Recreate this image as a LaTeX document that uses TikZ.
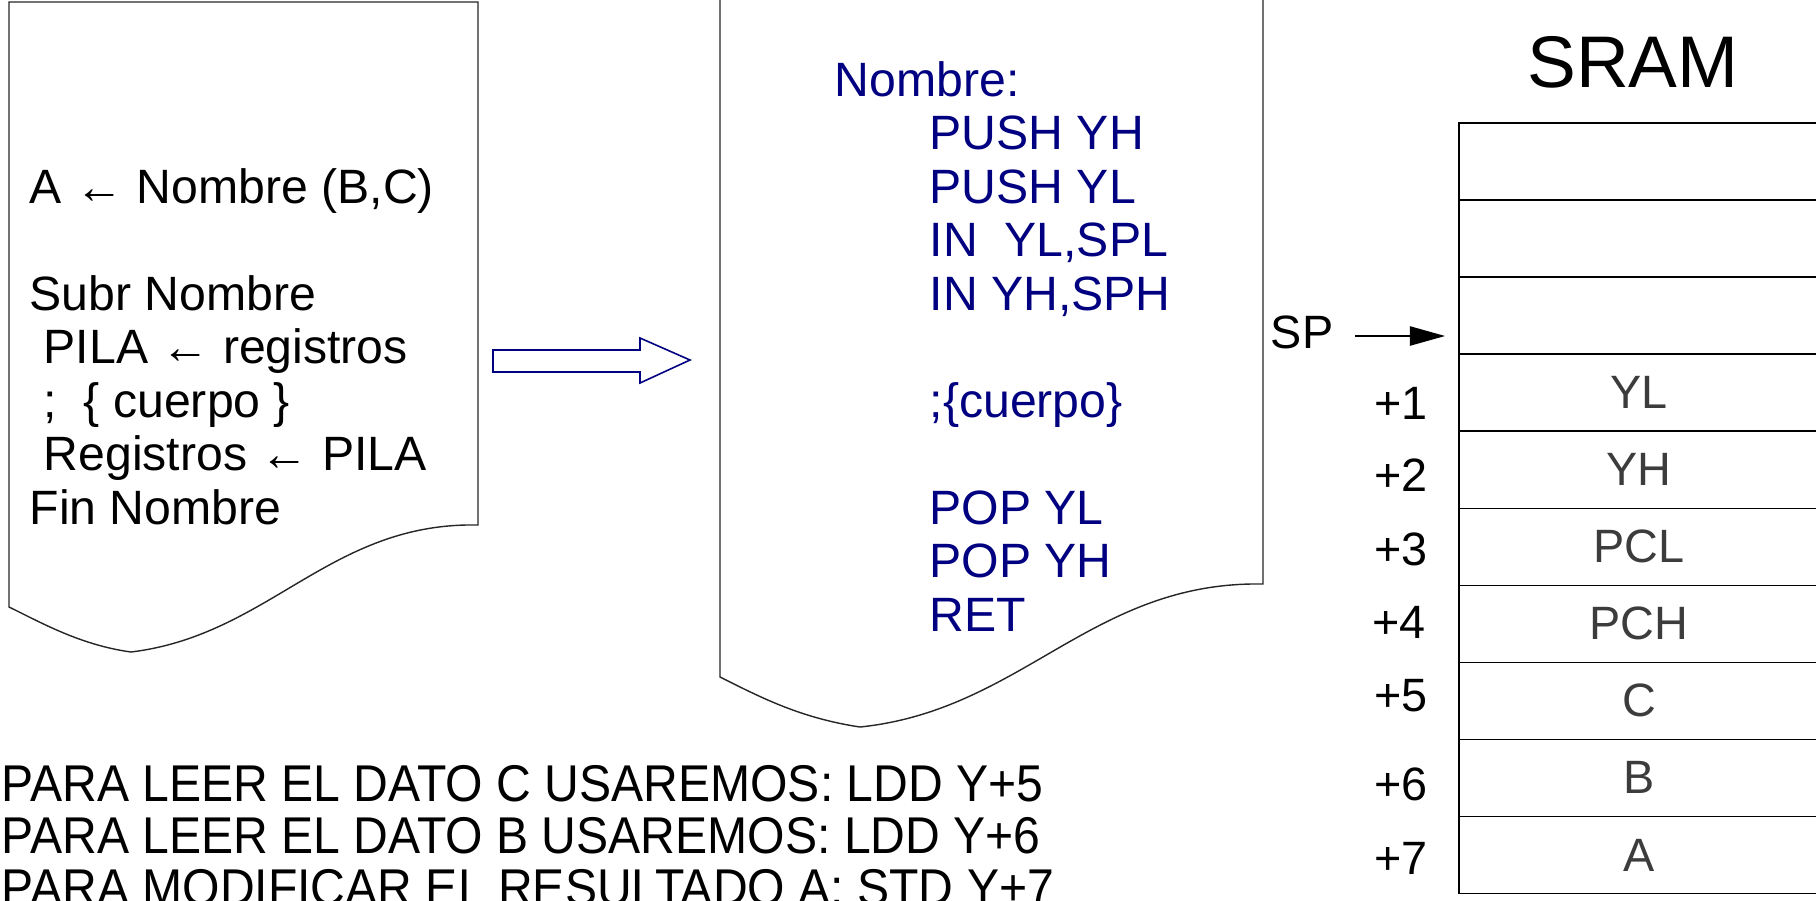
\documentclass[tikz,border=0pt]{standalone}
\usepackage{fontspec}
\setmainfont{Liberation Sans}
\usetikzlibrary{positioning,arrows.meta}

\definecolor{asmblue}{RGB}{0,0,128}
\definecolor{cellgray}{RGB}{60,60,60}

\tikzset{
  doctext/.style={anchor=base west,inner sep=0pt,font=\fontsize{13.7pt}{15.2pt}\selectfont},
  asmtext/.style={doctext,text=asmblue},
  paper/.style={draw=black!85,line width=0.4pt,fill=white},
  cell/.style={draw,line width=0.4pt,outer sep=0pt,inner sep=0pt,minimum width=3.6cm,minimum height=0.77cm,text=cellgray,font=\fontsize{13.3pt}{15pt}\selectfont},
  offs/.style={inner sep=0pt,font=\fontsize{13.3pt}{15pt}\selectfont},
  notetext/.style={anchor=base west,inner sep=0pt,font=\fontsize{14.7pt}{17pt}\selectfont},
}

\begin{document}
\begin{tikzpicture}[x=0.01cm,y=-0.01cm]
\useasboundingbox (0,0) rectangle (1816,900);

% calling side
\draw[paper] (9,2) -- (478,2) -- (478,525) .. controls (330,522) and (270,635) .. (131,652) .. controls (80,645) and (40,622) .. (9,607) -- cycle;
\node[doctext] (call) at (29,203) {A ← Nombre (B,C)};
\node[doctext] (subr) at (29,310) {Subr Nombre};
\node[doctext] (push) at (43,363.5) {PILA ← registros};
\node[doctext] (body) at (43,417) {;\ \ \{ cuerpo \}};
\node[doctext] (pop) at (43,470.5) {Registros ← PILA};
\node[doctext] (fin) at (29,524) {Fin Nombre};

% block arrow
\draw[draw=asmblue,line width=0.45pt] (493,350) -- (640,350) -- (640,338) -- (690,360) -- (640,383) -- (640,372) -- (493,372) -- cycle;

% assembler listing
\draw[paper] (720,-20) -- (1263,-20) -- (1263,584) .. controls (1092,581) and (1023,710) .. (860,727) .. controls (800,718) and (760,697) .. (720,677) -- cycle;
\node[asmtext] (lbl) at (834,96) {Nombre:};
\node[asmtext] (a1) at (929,149.5) {PUSH YH};
\node[asmtext] (a2) at (929,203) {PUSH YL};
\node[asmtext] (a3) at (929,256.5) {IN\ \ YL,SPL};
\node[asmtext] (a4) at (929,310) {IN YH,SPH};
\node[asmtext] (a5) at (929,417) {;\{cuerpo\}};
\node[asmtext] (a6) at (929,524) {POP YL};
\node[asmtext] (a7) at (929,577.5) {POP YH};
\node[asmtext] (a8) at (929,631) {RET};

% stack in SRAM
\node[anchor=base,inner sep=0pt,font=\fontsize{20.8pt}{24pt}\selectfont] (sram) at (1633,87) {SRAM};
\node[cell] (m1) at (1639,161.5) {};
\node[cell,below=0pt of m1] (m2) {};
\node[cell,below=0pt of m2] (m3) {};
\node[cell,below=0pt of m3] (m4) {YL};
\node[cell,below=0pt of m4] (m5) {YH};
\node[cell,below=0pt of m5] (m6) {PCL};
\node[cell,below=0pt of m6] (m7) {PCH};
\node[cell,below=0pt of m7] (m8) {C};
\node[cell,below=0pt of m8] (m9) {B};
\node[cell,below=0pt of m9] (m10) {A};

\node[offs] (sp) at (1302,332) {SP};
\coordinate (sptip) at (1445,336);
\draw[line width=0.4pt,-{Triangle[length=10pt,width=5.5pt]},shorten <=6pt] (sp.east |- sptip) -- (sptip);

\node[offs] (o1) at (1401,403) {+1};
\node[offs] (o2) at (1401,475) {+2};
\node[offs] (o3) at (1401,549) {+3};
\node[offs] (o4) at (1399,622) {+4};
\node[offs] (o5) at (1401,696) {+5};
\node[offs] (o6) at (1401,784) {+6};
\node[offs] (o7) at (1401,858) {+7};

% notes
\node[notetext] (n1) at (1,801) {\scalebox{0.931}[1]{PARA LEER EL DATO C USAREMOS: LDD Y+5}};
\node[notetext] (n2) at (1,853) {\scalebox{0.931}[1]{PARA LEER EL DATO B USAREMOS: LDD Y+6}};
\node[notetext] (n3) at (1,905) {\scalebox{0.931}[1]{PARA MODIFICAR EL RESULTADO A: STD Y+7}};
\end{tikzpicture}
\end{document}
